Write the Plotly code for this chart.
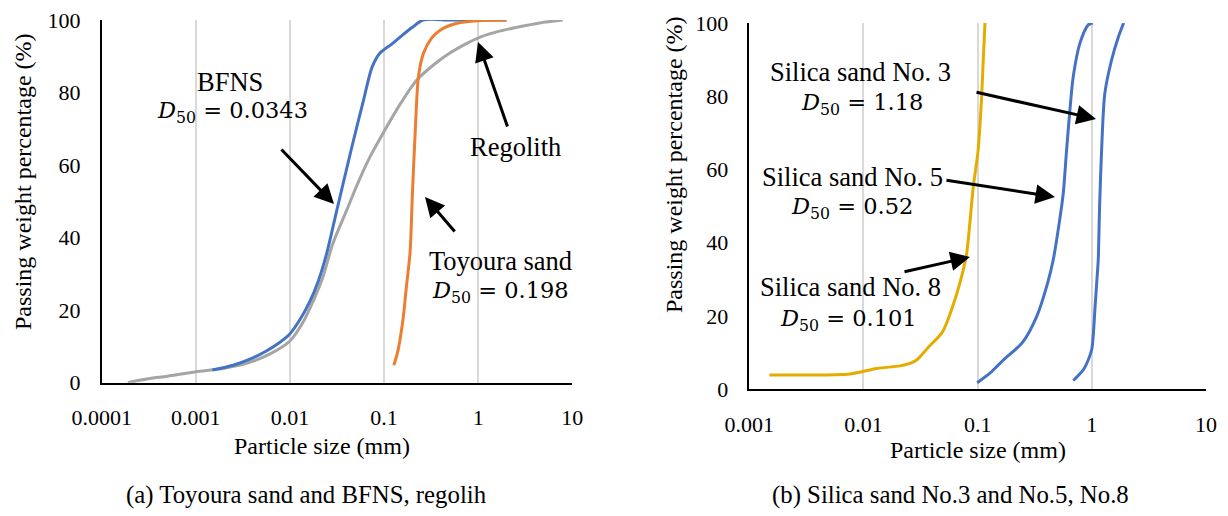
import plotly.graph_objects as go

W, H = 1228, 516

# ---------------- data (a) ----------------
regolith_x = [0.00019, 0.0003, 0.0005, 0.001, 0.002, 0.0036, 0.006, 0.01, 0.014, 0.018, 0.022, 0.0287,
              0.04, 0.0516, 0.07, 0.0976, 0.15, 0.224, 0.35, 0.5, 0.75, 1.05, 1.6, 2.59, 4.5, 7.9]
regolith_y = [0, 1.0, 1.8, 3.0, 4.0, 5.5, 7.8, 11.5, 17, 23, 28.5, 38.5,
              47.5, 54.5, 62, 68.8, 77, 83.5, 88, 90.9, 93.5, 95.3, 96.8, 98, 99.2, 100]

bfns_x = [0.0015, 0.0025, 0.0037, 0.0055, 0.0075, 0.0098, 0.0125, 0.016, 0.020, 0.0245, 0.0305, 0.038,
          0.047, 0.060, 0.0746, 0.0906, 0.12, 0.148, 0.20, 0.26, 0.5, 1.0, 2.0]
bfns_y = [3.5, 4.8, 6.4, 8.6, 10.8, 13.2, 17.0, 22.0, 28.0, 35.5, 46.0, 56.5,
          66.5, 77.5, 87.0, 90.9, 93.3, 95.3, 98.0, 100, 100, 100, 100]

toyoura_x = [0.127, 0.138, 0.148, 0.160, 0.172, 0.189, 0.200, 0.214, 0.232, 0.262, 0.32, 0.394, 0.593, 1.0, 2.0]
toyoura_y = [4.8, 8, 12, 18, 26, 36, 52, 68.8, 84.4, 90.8, 95, 97.2, 99.1, 99.8, 100]

# ---------------- data (b) ----------------
no8_x = [0.0015, 0.003, 0.0076, 0.0131, 0.0209, 0.0255, 0.0292, 0.037, 0.049, 0.061, 0.074, 0.0801,
         0.0916, 0.101, 0.108, 0.112, 0.116]
no8_y = [3.9, 3.9, 4.2, 5.7, 6.4, 7.1, 8.0, 11.5, 15.6, 23, 32, 37.1,
         55.3, 65.3, 79, 90, 100]

no5_x = [0.099, 0.128, 0.168, 0.247, 0.33, 0.41, 0.459, 0.51, 0.562, 0.601, 0.643, 0.687, 0.787, 0.93, 1.02]
no5_y = [1.8, 4.4, 8, 12.8, 20, 29, 35.3, 44, 53.5, 65.3, 76.3, 85.3, 94.5, 99.5, 100]

no3_x = [0.688, 0.841, 0.93, 1.0, 1.07, 1.12, 1.138, 1.17, 1.218, 1.30, 1.49, 1.7, 1.9]
no3_y = [2.4, 5.3, 8, 11, 23, 32, 35.3, 50, 65.3, 80.8, 89.9, 96, 100]

xticks_a = [0.0001, 0.001, 0.01, 0.1, 1, 10]
xticktext_a = ["0.0001", "0.001", "0.01", "0.1", "1", "10"]
xticks_b = [0.001, 0.01, 0.1, 1, 10]
xticktext_b = ["0.001", "0.01", "0.1", "1", "10"]
yticks = [0, 20, 40, 60, 80, 100]

SERIF = "Liberation Serif"
MATH = "DejaVu Serif"
BLUE, ORANGE, GREY, GOLD = "#4472C4", "#ED7D31", "#A5A5A5", "#E5AC00"


def px(x):
    return x / W


def py(y):
    return 1 - y / H


fig = go.Figure()

def line(xs, ys, color, xa, ya):
    fig.add_trace(go.Scatter(x=xs, y=ys, mode="lines", xaxis=xa, yaxis=ya, showlegend=False,
                             line=dict(color=color, width=3, shape="spline", smoothing=0.8),
                             hoverinfo="x+y"))

line(regolith_x, regolith_y, GREY, "x", "y")
line(bfns_x, bfns_y, BLUE, "x", "y")
line(toyoura_x, toyoura_y, ORANGE, "x", "y")
line(no8_x, no8_y, GOLD, "x2", "y2")
line(no5_x, no5_y, BLUE, "x2", "y2")
line(no3_x, no3_y, BLUE, "x2", "y2")

tickfont = dict(family=SERIF, size=22, color="black")
xcommon = dict(type="log", showgrid=True, gridcolor="#D9D9D9", gridwidth=1.5, showline=True,
               linecolor="black", linewidth=2, ticks="outside", ticklen=14, automargin=False,
               tickcolor="rgba(0,0,0,0)", tickfont=tickfont, zeroline=False)
ycommon = dict(range=[0, 100], tickvals=yticks, showgrid=False, showline=True, linecolor="black",
               linewidth=1.5, ticks="outside", ticklen=15, tickcolor="rgba(0,0,0,0)", automargin=False,
               tickfont=tickfont, zeroline=False)

fig.update_layout(
    width=W, height=H, margin=dict(l=0, r=0, t=0, b=0, pad=0, autoexpand=False),
    paper_bgcolor="white", plot_bgcolor="white", showlegend=False,
    font=dict(family=SERIF, color="black"),
    xaxis=dict(xcommon, range=[-4, 1], tickvals=xticks_a, ticktext=xticktext_a,
               domain=[px(101.7), px(572.3)], anchor="y"),
    yaxis=dict(ycommon, domain=[py(382.7), py(20)], anchor="x"),
    xaxis2=dict(xcommon, range=[-3, 1], tickvals=xticks_b, ticktext=xticktext_b,
                domain=[px(749.3), px(1206)], anchor="y2"),
    yaxis2=dict(ycommon, domain=[py(389.3), py(23)], anchor="x2"),
)

ann = []

def text(x, y, s, size=26.5, family=SERIF, angle=0):
    ann.append(dict(x=px(x), y=py(y), xref="paper", yref="paper", text=s, showarrow=False,
                    xanchor="center", yanchor="middle", textangle=angle,
                    font=dict(family=family, size=size, color="black")))

def arrow(tx, ty, hx, hy):
    ann.append(dict(x=px(hx), y=py(hy), xref="paper", yref="paper", ax=tx - hx, ay=ty - hy,
                    axref="pixel", ayref="pixel", text="", showarrow=True, arrowhead=2,
                    arrowsize=1.3, arrowwidth=3, arrowcolor="black", standoff=0, startstandoff=0))

def d50(x, y, v):
    text(x, y, "<i>D</i><sub>50</sub> = " + v, 22.5, MATH)

# axis titles & captions
text(322, 446, "Particle size (mm)", 24)
text(978, 450, "Particle size (mm)", 24)
text(23, 182, "Passing weight percentage (%)", 24, angle=-90)
text(674, 165, "Passing weight percentage (%)", 24, angle=-90)
text(306, 495, "(a) Toyoura sand and BFNS, regolih", 24.8)
text(950, 495, "(b) Silica sand No.3 and No.5, No.8", 24.8)

# chart (a) labels
text(230, 82, "BFNS")
d50(232, 112, "0.0343")
arrow(280, 148, 334, 204)
text(515, 147, "Regolith")
arrow(508, 128, 478, 42)
text(500, 261, "Toyoura sand")
d50(500, 292, "0.198")
arrow(456, 233, 425, 197)

# chart (b) labels
text(860, 72, "Silica sand No. 3")
d50(862, 104, "1.18")
arrow(975, 92, 1096, 119)
text(852, 177, "Silica sand No. 5")
d50(852, 208, "0.52")
arrow(945, 180, 1055, 197)
text(850, 287, "Silica sand No. 8")
d50(848, 320, "0.101")
arrow(903, 272, 970, 257)

fig.update_layout(annotations=ann)
fig.write_html("out.html")
